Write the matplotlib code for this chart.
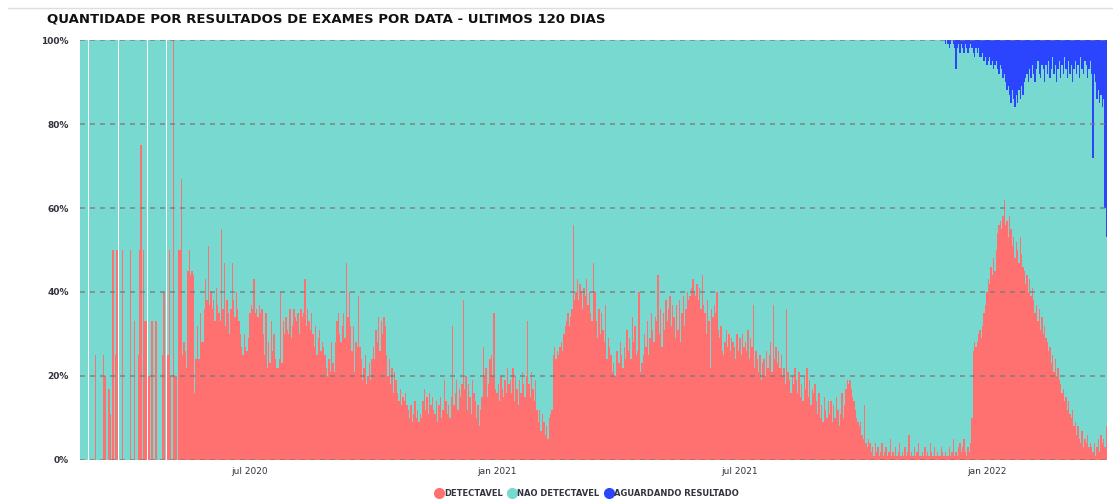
import matplotlib
matplotlib.use("Agg")
import matplotlib.pyplot as plt
import matplotlib.dates as mdates
from matplotlib.lines import Line2D
from matplotlib.ticker import FuncFormatter
import numpy as np
import pandas as pd

inicio = "2020-02-26"

# % DETECTAVEL por dia (None = dia sem exames)
detectavel_2020 = [
    0, 0, 0, 0,  # fev
    0, 0, None, 0, 0, 0, 0, 25, 0, 0, 0, 0, 0, 25, 20, 0, 0, 17, 11, 0, 50, 0, 25, 50, None, 0, 0, 50, 0, 0, 0,
    0, 0, 50, 0, 0, 33, 0, 0, 25, 50, 75, 0, 50, 33, 33, None, 20, 0, 33, 0, 0, 33, 0, 0, 0, 0, 25, 40, 0, None,
    25, 50, 20, 0, 100, 20, 20, 0, 50, 50, 67, 25, 28, 26, 22, 45, 50, 44, 45, 44, 16, 24, 32, 24, 35, 28, 28, 36, 43, 38, 51,
    37, 40, 36, 38, 33, 41, 37, 35, 33, 55, 36, 47, 32, 38, 35, 30, 36, 47, 38, 34, 40, 36, 33, 30, 27, 25, 30, 27, 26, 29,
    35, 37, 36, 43, 35, 36, 34, 37, 35, 36, 30, 25, 35, 22, 28, 23, 33, 26, 30, 24, 22, 22, 24, 40, 23, 33, 30, 34, 31, 30, 36,
    29, 32, 36, 34, 33, 35, 30, 36, 34, 35, 43, 32, 36, 33, 31, 35, 30, 27, 32, 25, 29, 31, 26, 28, 27, 25, 22, 20, 24, 21, 28,
    23, 21, 28, 33, 35, 30, 28, 32, 35, 29, 47, 34, 40, 32, 26, 32, 21, 28, 27, 39, 27, 24, 19, 22, 25, 18, 20, 23, 19, 24,
    27, 24, 31, 28, 34, 26, 33, 30, 34, 32, 25, 20, 24, 18, 22, 16, 21, 19, 16, 14, 17, 13, 15, 14, 16, 13, 12, 10, 13, 9, 11,
    14, 10, 12, 9, 11, 10, 14, 17, 12, 15, 11, 16, 13, 15, 12, 11, 14, 9, 13, 15, 10, 12, 19, 14, 11, 13, 10, 15, 32, 13,
    16, 19, 12, 17, 15, 18, 38, 17, 20, 12, 18, 15, 11, 19, 16, 14, 10, 13, 8, 12, 15, 27, 20, 22, 15, 18, 24, 25, 20, 35, 17,
]
detectavel_2021 = [
    16, 18, 14, 20, 17, 15, 19, 16, 22, 18, 19, 16, 22, 14, 20, 17, 13, 19, 16, 21, 18, 15, 20, 33, 18, 15, 21, 17, 14, 19, 12,
    9, 12, 7, 11, 9, 6, 8, 5, 10, 11, 12, 25, 27, 24, 26, 25, 27, 28, 26, 30, 32, 33, 35, 32, 34, 36, 56, 38,
    40, 43, 38, 42, 40, 36, 41, 39, 43, 37, 40, 35, 33, 47, 40, 33, 29, 36, 30, 35, 31, 28, 37, 24, 29, 27, 25, 21, 23, 20, 26,
    26, 23, 28, 25, 22, 27, 24, 31, 26, 29, 24, 34, 28, 32, 25, 26, 40, 21, 23, 25, 30, 27, 33, 25, 29, 35, 31, 28, 34, 33,
    44, 30, 36, 27, 35, 31, 38, 33, 36, 39, 32, 37, 34, 29, 37, 31, 38, 28, 35, 39, 32, 36, 40, 38, 39, 41, 43, 40, 39, 42, 38,
    41, 36, 44, 37, 35, 30, 38, 33, 22, 36, 34, 37, 35, 40, 31, 29, 32, 26, 25, 28, 31, 27, 30, 26, 29, 28, 27, 24, 30, 26,
    29, 25, 30, 27, 28, 26, 31, 24, 29, 27, 37, 22, 26, 24, 21, 25, 19, 23, 24, 20, 26, 22, 25, 28, 21, 37, 24, 27, 23, 26, 22,
    25, 20, 22, 18, 36, 21, 19, 16, 20, 18, 22, 19, 16, 21, 15, 18, 14, 20, 17, 22, 15, 19, 13, 17, 16, 18, 14, 11, 16, 10, 13,
    9, 15, 12, 10, 14, 11, 14, 9, 13, 10, 15, 12, 8, 11, 16, 10, 13, 17, 19, 18, 19, 17, 15, 14, 12, 10, 9, 8, 9, 6,
    5, 13, 4, 3, 5, 4, 2, 3, 1, 4, 2, 3, 1, 2, 4, 1, 2, 3, 1, 2, 5, 1, 2, 1, 3, 1, 2, 4, 1, 2, 1,
    3, 1, 2, 6, 1, 2, 1, 3, 1, 2, 4, 1, 1, 2, 1, 3, 1, 2, 1, 4, 2, 1, 3, 1, 2, 1, 1, 3, 2, 1,
    2, 1, 1, 3, 1, 2, 5, 1, 2, 1, 3, 4, 2, 3, 5, 2, 1, 3, 2, 4, 10, 26, 28, 27, 28, 30, 31, 29, 32, 35, 37,
]
detectavel_2022 = [
    40, 43, 42, 46, 44, 48, 45, 50, 54, 56, 57, 55, 58, 62, 56, 57, 53, 58, 55, 51, 53, 48, 52, 50, 47, 53, 49, 46, 45, 42, 44,
    40, 43, 39, 41, 38, 35, 37, 33, 36, 31, 34, 30, 32, 29, 28, 26, 27, 23, 25, 21, 24, 20, 22, 19, 18, 16, 17, 14,
    15, 12, 14, 11, 10, 12, 8, 9, 6, 8, 5, 4, 7, 3, 5, 4, 6, 3, 4, 3, 2, 4, 1, 3, 5, 2, 6, 4, 5, 3, 8,
]

# % AGUARDANDO RESULTADO a partir de dez/2021
inicio_aguardando = "2021-12-01"
aguardando = [
    1, 0, 1, 2, 1, 0, 1, 2, 7, 2, 1, 3, 1, 2, 3, 1, 2, 3, 2, 1, 2, 3, 4, 2, 3, 2, 4, 4, 3, 5, 4,
    6, 5, 4, 6, 5, 7, 6, 5, 7, 8, 6, 7, 9, 8, 10, 12, 11, 13, 15, 12, 14, 16, 13, 15, 12, 14, 11, 13, 10, 9, 8,
    10, 7, 9, 6, 8, 10, 7, 5, 8, 9, 6, 7, 10, 6, 8, 5, 9, 7, 4, 8, 6, 10, 7, 5, 9, 6, 8, 4,
    7, 9, 5, 8, 6, 10, 7, 5, 8, 6, 9, 4, 7, 8, 5, 6, 9, 7, 5, 8, 28, 8, 10, 14, 12, 15, 13, 16, 14, 40, 47,
]

series = ["DETECTAVEL", "NAO DETECTAVEL", "AGUARDANDO RESULTADO"]
cores = ["#FF7070", "#77D9CF", "#2B45FF"]
meses = {1: "jan", 7: "jul"}

det = np.array(detectavel_2020 + detectavel_2021 + detectavel_2022, dtype=float)
datas = pd.date_range(inicio, periods=len(det), freq="D")
agu = np.zeros(len(det))
i0 = datas.get_loc(pd.Timestamp(inicio_aguardando))
agu[i0:i0 + len(aguardando)] = aguardando
nao = 100 - det - agu

fig = plt.figure(figsize=(11.13, 4.99), dpi=100)
ax = fig.add_axes([0.0719, 0.0782, 0.9227, 0.8416])

ax.bar(datas, det, width=1.0, color=cores[0], linewidth=0)
ax.bar(datas, nao, bottom=det, width=1.0, color=cores[1], linewidth=0)
ax.bar(datas, agu, bottom=det + nao, width=1.0, color=cores[2], linewidth=0)

ax.set_xlim(datas[0] - pd.Timedelta(hours=12), datas[-1] + pd.Timedelta(hours=12))
ax.set_ylim(0, 100)
ax.set_yticks([0, 20, 40, 60, 80, 100])
ax.yaxis.set_major_formatter(FuncFormatter(lambda v, p: f"{int(v)}%"))
ax.xaxis.set_major_locator(mdates.MonthLocator(bymonth=[1, 7]))
ax.xaxis.set_major_formatter(FuncFormatter(
    lambda v, p: f"{meses[mdates.num2date(v).month]} {mdates.num2date(v).year}"))

ax.set_axisbelow(False)
ax.yaxis.grid(True, color="#7a7a7a", linestyle=(0, (3, 3)), linewidth=1.2, alpha=0.8)
for s in ax.spines.values():
    s.set_visible(False)
ax.tick_params(length=0, labelsize=6.5, colors="#333340")
ax.tick_params(axis="y", pad=8)
ax.tick_params(axis="x", pad=5)
for t in ax.get_yticklabels():
    t.set_fontweight("bold")

fig.text(0.042, 0.962, "QUANTIDADE POR RESULTADOS DE EXAMES POR DATA - ULTIMOS 120 DIAS",
         fontsize=9.5, fontweight="heavy", va="center", ha="left", color="#111111")
fig.add_artist(Line2D([0.007, 1.0], [0.984, 0.984], color="#dddddd", linewidth=1))

handles = [Line2D([], [], marker="o", linestyle="", markersize=7, color=c) for c in cores]
fig.legend(handles, series, loc="center", bbox_to_anchor=(0.527, 0.012), ncol=3, frameon=False,
           prop={"size": 6, "weight": "bold"}, labelcolor="#333340",
           handletextpad=0.15, columnspacing=0.6, handlelength=1.0)

fig.savefig("out.png", dpi=100)
